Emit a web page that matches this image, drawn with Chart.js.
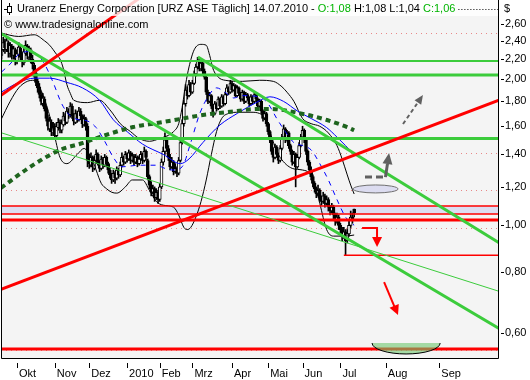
<!DOCTYPE html>
<html><head><meta charset="utf-8">
<script src="https://cdn.jsdelivr.net/npm/chart.js@4/dist/chart.umd.min.js"></script>
<style>html,body{margin:0;padding:0;background:#fff;}canvas{display:block}</style>
</head><body>
<canvas id="c" width="530" height="380"></canvas>
<script>
// ---------- data ----------
const opens = [
2.24,2.30,2.40,2.30,2.38,2.26,2.34,2.24,2.30,2.18,
2.25,2.32,2.24,2.16,2.26,2.34,2.22,2.30,2.20,2.14,
2.06,1.98,1.93,1.86,1.78,1.82,1.74,1.66,1.58,1.63,
1.55,1.60,1.53,1.59,1.63,1.57,1.61,1.68,1.63,1.72,
1.69,1.76,1.68,1.63,1.70,1.65,1.72,1.68,1.61,1.66,
1.60,1.37,1.33,1.38,1.31,1.36,1.40,1.35,1.31,1.37,
1.33,1.38,1.34,1.30,1.27,1.24,1.28,1.25,1.30,1.27,
1.33,1.38,1.35,1.40,1.37,1.41,1.36,1.39,1.35,1.38,
1.34,1.37,1.40,1.36,1.42,1.36,1.26,1.21,1.17,1.19,
1.14,1.17,1.13,1.20,1.35,1.42,1.50,1.44,1.38,1.32,
1.35,1.29,1.31,1.28,1.36,1.48,1.62,1.78,1.90,1.85,
1.95,1.88,1.96,2.05,2.12,2.18,2.10,2.16,2.08,2.02,
1.88,1.80,1.85,1.76,1.70,1.78,1.74,1.82,1.76,1.84,
1.78,1.86,1.92,1.88,1.96,1.90,1.94,1.85,1.92,1.87,
1.82,1.88,1.80,1.86,1.83,1.78,1.84,1.80,1.86,1.82,
1.76,1.80,1.72,1.66,1.70,1.62,1.56,1.50,1.42,1.38,
1.45,1.40,1.36,1.44,1.52,1.58,1.50,1.55,1.46,1.42,
1.35,1.40,1.32,1.38,1.46,1.52,1.57,1.50,1.42,1.35,
1.30,1.26,1.22,1.19,1.16,1.18,1.14,1.12,1.15,1.11,
1.13,1.09,1.07,1.09,1.05,1.02,1.04,1.00,0.98,0.95,
0.97,0.93,0.96,1.00,1.04,1.08];
const highs = [
2.36,2.44,2.42,2.45,2.40,2.38,2.36,2.34,2.32,2.30,
2.38,2.34,2.26,2.32,2.40,2.36,2.34,2.32,2.24,2.16,
2.08,2.00,1.96,1.88,1.87,1.84,1.76,1.69,1.67,1.65,
1.63,1.62,1.63,1.66,1.65,1.65,1.71,1.70,1.75,1.74,
1.79,1.78,1.70,1.73,1.72,1.75,1.74,1.69,1.69,1.67,
1.62,1.40,1.41,1.39,1.39,1.43,1.41,1.36,1.39,1.38,
1.40,1.39,1.35,1.31,1.28,1.30,1.29,1.32,1.31,1.35,
1.41,1.39,1.42,1.41,1.43,1.42,1.41,1.40,1.40,1.39,
1.39,1.42,1.41,1.45,1.43,1.37,1.27,1.23,1.21,1.20,
1.19,1.18,1.22,1.37,1.45,1.55,1.52,1.46,1.40,1.38,
1.36,1.34,1.32,1.38,1.50,1.65,1.81,1.95,1.93,1.99,
1.97,1.99,2.08,2.15,2.22,2.20,2.19,2.17,2.10,2.03,
1.90,1.88,1.86,1.77,1.80,1.79,1.84,1.83,1.86,1.85,
1.88,1.95,1.93,1.99,1.98,1.96,1.95,1.94,1.93,1.88,
1.90,1.89,1.88,1.87,1.84,1.86,1.85,1.88,1.87,1.83,
1.82,1.81,1.73,1.72,1.71,1.63,1.57,1.51,1.44,1.47,
1.46,1.41,1.46,1.54,1.61,1.59,1.57,1.56,1.47,1.43,
1.42,1.41,1.40,1.48,1.54,1.60,1.58,1.51,1.43,1.36,
1.32,1.27,1.23,1.20,1.21,1.19,1.15,1.17,1.16,1.15,
1.14,1.10,1.11,1.10,1.06,1.06,1.05,1.01,0.99,0.99,
0.98,0.98,1.02,1.07,1.06,1.08];
const lows = [
2.20,2.28,2.26,2.28,2.22,2.22,2.20,2.20,2.14,2.15,
2.22,2.18,2.12,2.14,2.24,2.20,2.18,2.16,2.10,2.02,
1.94,1.88,1.83,1.77,1.76,1.72,1.64,1.57,1.56,1.53,
1.53,1.51,1.52,1.57,1.55,1.55,1.60,1.61,1.62,1.66,
1.67,1.66,1.61,1.62,1.63,1.64,1.65,1.59,1.60,1.57,
1.32,1.31,1.32,1.29,1.30,1.34,1.33,1.29,1.30,1.31,
1.32,1.32,1.28,1.25,1.22,1.23,1.22,1.24,1.25,1.26,
1.32,1.33,1.34,1.35,1.36,1.34,1.35,1.33,1.34,1.32,
1.33,1.36,1.34,1.35,1.36,1.24,1.19,1.15,1.16,1.12,
1.13,1.11,1.12,1.19,1.33,1.40,1.42,1.36,1.30,1.31,
1.27,1.28,1.26,1.27,1.35,1.47,1.60,1.76,1.82,1.84,
1.86,1.87,1.95,2.03,2.10,2.08,2.08,2.05,2.00,1.86,
1.78,1.79,1.74,1.67,1.69,1.72,1.73,1.74,1.75,1.76,
1.77,1.85,1.86,1.87,1.88,1.89,1.84,1.84,1.85,1.80,
1.81,1.78,1.79,1.81,1.76,1.77,1.78,1.79,1.80,1.74,
1.75,1.70,1.64,1.65,1.60,1.54,1.48,1.40,1.35,1.37,
1.38,1.34,1.35,1.43,1.51,1.48,1.49,1.44,1.40,1.33,
1.34,1.20,1.31,1.37,1.45,1.51,1.48,1.40,1.33,1.28,
1.24,1.20,1.17,1.14,1.15,1.12,1.10,1.11,1.09,1.10,
1.07,1.05,1.06,1.03,1.00,1.01,0.98,0.96,0.93,0.94,
0.87,0.92,0.95,0.99,1.01,1.04];
const closes = [
2.30,2.38,2.32,2.40,2.28,2.35,2.25,2.31,2.20,2.26,
2.33,2.22,2.18,2.28,2.35,2.24,2.30,2.21,2.15,2.05,
1.97,1.92,1.86,1.80,1.83,1.74,1.66,1.60,1.64,1.56,
1.60,1.54,1.60,1.63,1.58,1.62,1.68,1.64,1.72,1.70,
1.76,1.68,1.64,1.70,1.66,1.72,1.68,1.62,1.66,1.60,
1.36,1.34,1.38,1.32,1.36,1.40,1.35,1.31,1.37,1.33,
1.38,1.34,1.30,1.27,1.24,1.28,1.25,1.30,1.27,1.33,
1.38,1.35,1.40,1.37,1.41,1.36,1.39,1.35,1.38,1.34,
1.37,1.40,1.36,1.42,1.38,1.26,1.21,1.17,1.19,1.14,
1.17,1.13,1.20,1.35,1.42,1.50,1.44,1.38,1.32,1.35,
1.29,1.31,1.28,1.36,1.48,1.62,1.78,1.90,1.85,1.95,
1.88,1.96,2.05,2.12,2.18,2.10,2.16,2.08,2.02,1.88,
1.80,1.85,1.76,1.70,1.78,1.74,1.82,1.76,1.84,1.78,
1.86,1.92,1.88,1.96,1.90,1.94,1.85,1.92,1.87,1.82,
1.88,1.80,1.86,1.83,1.78,1.84,1.80,1.86,1.82,1.76,
1.80,1.72,1.66,1.70,1.62,1.56,1.50,1.42,1.38,1.45,
1.40,1.36,1.44,1.52,1.58,1.50,1.55,1.46,1.42,1.35,
1.40,1.32,1.38,1.46,1.52,1.57,1.50,1.42,1.35,1.30,
1.26,1.22,1.19,1.16,1.18,1.14,1.12,1.15,1.11,1.13,
1.09,1.07,1.09,1.05,1.02,1.04,1.00,0.98,0.95,0.97,
0.93,0.96,1.00,1.04,1.03,1.06];

// indicator curves: [bar index, price]
const ma20 = [[0,2.07],[5,2.15],[10,2.25],[15,2.28],[20,2.26],[25,2.15],[30,1.97],[35,1.78],[40,1.68],[45,1.65],[50,1.64],[55,1.59],[60,1.49],[65,1.38],[70,1.32],[80,1.33],[90,1.33],[95,1.31],[100,1.30],[105,1.32],[110,1.48],[115,1.69],[120,1.84],[125,1.92],[130,1.88],[135,1.83],[140,1.85],[150,1.84],[155,1.78],[160,1.66],[165,1.56],[170,1.48],[175,1.46],[180,1.43],[185,1.34],[190,1.24],[195,1.13],[200,1.04],[205,1.00]];
const ma50 = [[-0.3,1.88],[10,1.97],[19,2.01],[28,2.01],[38,1.97],[47,1.92],[57,1.81],[65,1.65],[73,1.56],[82,1.47],[94,1.40],[104,1.34],[109,1.37],[117,1.48],[127,1.61],[137,1.70],[148,1.79],[156,1.84],[164,1.80],[172,1.72],[180,1.66],[189,1.59],[195,1.52],[205,1.40]];
const ma200 = [[-0.3,1.194],[16.6,1.319],[34,1.43],[47.4,1.478],[57.3,1.521],[76.5,1.594],[90.4,1.625],[103.8,1.656],[117,1.688],[137,1.72],[148.5,1.737],[156,1.737],[175.3,1.696],[189.2,1.648],[200.9,1.594],[205,1.57]];
const bbUpper = [[-0.3,2.49],[10,2.45],[19,2.47],[25,2.40],[28,2.35],[32,2.25],[34,2.20],[36,2.10],[38,1.95],[40,1.87],[42,1.81],[50,1.79],[57,1.81],[63,1.73],[69,1.62],[75,1.56],[80,1.51],[86,1.49],[92,1.51],[100,1.56],[103,1.62],[105,1.75],[107,1.95],[109,2.12],[112,2.30],[116,2.36],[119,2.35],[121,2.24],[123,2.10],[126,2.02],[130,1.99],[140,1.98],[150,1.99],[158,1.98],[163,1.93],[166,1.88],[170,1.80],[175,1.66],[180,1.62],[185,1.60],[190,1.55],[195,1.46],[198,1.37],[201,1.27],[203,1.21],[205,1.16]];
const bbLower = [[-0.3,1.65],[5,1.80],[10,1.92],[15,1.98],[19,1.99],[22,1.93],[25,1.82],[28,1.68],[31,1.52],[34,1.38],[38,1.34],[44,1.40],[48,1.44],[50,1.42],[53,1.36],[55,1.30],[58,1.22],[61,1.19],[64,1.17],[67,1.165],[72,1.20],[76,1.24],[82,1.24],[86,1.18],[90,1.12],[94,1.10],[100,1.09],[103,1.05],[106,0.99],[108,0.98],[110,0.99],[113,1.04],[116,1.12],[119,1.24],[122,1.40],[125,1.56],[128,1.66],[132,1.70],[138,1.71],[145,1.71],[150,1.70],[153,1.66],[156,1.56],[159,1.45],[162,1.38],[169,1.31],[175,1.30],[179,1.28],[182,1.22],[185,1.11],[189,0.98],[193,0.95],[200,0.95],[205,0.955]];

// drawn trend lines and levels: [bar index, price]
const redTrend1 = [[-0.3,1.853],[80.5,2.943]];
const redTrend2 = [[-0.3,0.738],[289.2,1.812]];
const greenTrendA = [[-0.3,2.484],[289.2,0.613]];
const greenTrendB = [[114.2,2.222],[289.2,0.921]];
const greenTrendC = [[-0.3,1.552],[289.2,0.731]];
const greenLevelsThin = [2.18];
const greenLevelsThick = [2.04, 1.51];
const redLevelsThin = [1.096, 1.055];
const redLevelsThick = [1.026, 0.556];
const supportLevel = [[199,0.868],[289.2,0.868]];
const zoneBand = [1.055, 1.096];
const dottedLevels = [2.49, 1.409, 1.182, 0.987, 0.553];

// axis ticks
const monthTickPos = [9,31,51,73,92,111,134,155,175,197,223.4,254.5];
const monthLabels = ['Okt','Nov','Dez','2010','Feb','Mrz','Apr','Mai','Jun','Jul','Aug','Sep'];
const priceTicks = [0.6,0.8,1.0,1.2,1.4,1.6,1.8,2.0,2.2,2.4,2.6];

// annotations: [bar index, price]
const blueEllipse = {i0:204.4, i1:230.5, p0:1.211, p1:1.166};
const grayDash = [[211.3,1.257],[222.9,1.257]];
const grayArrow1 = [[223.2,1.257],[225.3,1.409]];
const grayArrow2 = [[233.4,1.617],[245.0,1.856]];
const redArrow1 = [[209.6,0.987],[218.3,0.987],[218.3,0.902]];
const redArrow2 = [[222.4,0.764],[230.5,0.653]];
const greenBowl = {i0:215.4, i1:255.0, pTop:0.572, pBot:0.543};

const titleParts = [['Uranerz Energy Corporation [URZ ASE Täglich] 14.07.2010 - ','#000'],['O:1,08','#00b400'],[' H:1,08 L:1,04 ','#000'],['C:1,06','#00b400']];
const copyright = '© www.tradesignalonline.com';

// ---------- chart ----------
const FONT = '"Liberation Sans", Arial, sans-serif';
const XMIN = -0.3, XMAX = 289.2;
const pts = a => a.map(([x,y]) => ({x, y}));
function lineDs(data, color, width, order, dash, smooth){
  return {type:'line', data: pts(data), borderColor: color, borderWidth: width, pointRadius: 0,
    fill: false, order, borderDash: dash || [], cubicInterpolationMode: smooth ? 'monotone' : 'default', tension: 0};
}
const datasets = [];
datasets.push({type:'bar', data: closes.map((c,i)=>({x:i, y:[lows[i], highs[i]]})), backgroundColor:'#000',
  barThickness:1, grouped:false, order:30});
datasets.push({type:'bar', data: closes.map((c,i)=>({x:i, y:[opens[i], c]})),
  backgroundColor: closes.map((c,i)=> c >= opens[i] ? '#fff' : '#000'), borderColor:'#000', borderWidth:1,
  borderSkipped:false, barThickness:3, grouped:false, order:29});
datasets.push(lineDs(bbUpper, '#000', 1, 20, null, true));
datasets.push(lineDs(bbLower, '#000', 1, 20, null, true));
datasets.push(lineDs(ma50, '#0000ff', 1, 19, null, true));
datasets.push(lineDs(ma20, '#0000ff', 1, 19, [5,5], true));
datasets.push(lineDs(ma200, '#1e641e', 4, 18, [5,4], true));
greenLevelsThin.forEach(v => datasets.push(lineDs([[XMIN,v],[XMAX,v]], '#3ccc3c', 2, 10)));
greenLevelsThick.forEach(v => datasets.push(lineDs([[XMIN,v],[XMAX,v]], '#3ccc3c', 3, 10)));
redLevelsThin.forEach(v => datasets.push(lineDs([[XMIN,v],[XMAX,v]], '#ff0000', 1.5, 9)));
redLevelsThick.forEach(v => datasets.push(lineDs([[XMIN,v],[XMAX,v]], '#ff0000', 3, 9)));
datasets.push(lineDs(supportLevel, '#ff0000', 1.5, 9));
datasets.push(lineDs(greenTrendA, '#3ccc3c', 3, 8));
datasets.push(lineDs(greenTrendB, '#3ccc3c', 3, 8));
datasets.push(lineDs(greenTrendC, '#3ccc3c', 1, 8));
datasets.push(lineDs(redTrend1, '#ff0000', 3, 7));
datasets.push(lineDs(redTrend2, '#ff0000', 3, 7));

function arrowHead(ctx, x0, y0, x1, y1, len, half){
  const a = Math.atan2(y1-y0, x1-x0);
  ctx.beginPath();
  ctx.moveTo(x1, y1);
  ctx.lineTo(x1 - len*Math.cos(a) + half*Math.sin(a), y1 - len*Math.sin(a) - half*Math.cos(a));
  ctx.lineTo(x1 - len*Math.cos(a) - half*Math.sin(a), y1 - len*Math.sin(a) + half*Math.cos(a));
  ctx.closePath(); ctx.fill();
}

const deco = {
  id:'deco',
  beforeDraw(chart){
    const {ctx, chartArea:a} = chart;
    ctx.save();
    ctx.fillStyle = '#fff'; ctx.fillRect(0,0,chart.width,chart.height);
    ctx.fillStyle = '#f4f4f4'; ctx.fillRect(a.left, a.top, a.right-a.left, a.bottom-a.top);
    ctx.restore();
  },
  beforeDatasetsDraw(chart){
    const {ctx, chartArea:a, scales:{y}} = chart;
    ctx.save();
    const yb0 = y.getPixelForValue(zoneBand[1]), yb1 = y.getPixelForValue(zoneBand[0]);
    ctx.fillStyle = '#dcdef2'; ctx.fillRect(a.left, yb0, a.right-a.left, yb1-yb0);
    ctx.strokeStyle = '#e88888'; ctx.lineWidth = 1; ctx.setLineDash([1,4]);
    dottedLevels.forEach(v => { const yy = Math.round(y.getPixelForValue(v)) + 0.5;
      ctx.beginPath(); ctx.moveTo(a.left, yy); ctx.lineTo(a.right, yy); ctx.stroke(); });
    ctx.restore();
  },
  afterDatasetsDraw(chart){
    const {ctx, chartArea:a, scales:{x, y}} = chart;
    const P = ([i,p]) => [x.getPixelForValue(i), y.getPixelForValue(p)];
    ctx.save();
    ctx.beginPath(); ctx.rect(a.left, a.top, a.right-a.left, a.bottom-a.top); ctx.clip();
    // lavender ellipse
    let x0 = x.getPixelForValue(blueEllipse.i0), x1 = x.getPixelForValue(blueEllipse.i1);
    let y0 = y.getPixelForValue(blueEllipse.p0), y1 = y.getPixelForValue(blueEllipse.p1);
    ctx.beginPath(); ctx.ellipse((x0+x1)/2, (y0+y1)/2, (x1-x0)/2, (y1-y0)/2, 0, 0, Math.PI*2);
    ctx.fillStyle = '#dcdcf0'; ctx.fill(); ctx.strokeStyle = '#707070'; ctx.lineWidth = 1; ctx.stroke();
    // green bowl
    x0 = x.getPixelForValue(greenBowl.i0); x1 = x.getPixelForValue(greenBowl.i1);
    y0 = y.getPixelForValue(greenBowl.pTop); y1 = y.getPixelForValue(greenBowl.pBot);
    ctx.beginPath(); ctx.ellipse((x0+x1)/2, y0, (x1-x0)/2, y1-y0, 0, 0, Math.PI);
    ctx.fillStyle = 'rgba(110,200,110,0.6)'; ctx.fill(); ctx.strokeStyle = '#000'; ctx.stroke();
    // gray dashed + arrow
    ctx.strokeStyle = '#606060'; ctx.fillStyle = '#606060'; ctx.lineWidth = 3; ctx.setLineDash([7,4]);
    let p0 = P(grayDash[0]), p1 = P(grayDash[1]);
    ctx.beginPath(); ctx.moveTo(p0[0], p0[1]); ctx.lineTo(p1[0], p1[1]); ctx.stroke();
    ctx.setLineDash([]);
    p0 = P(grayArrow1[0]); p1 = P(grayArrow1[1]);
    ctx.beginPath(); ctx.moveTo(p0[0], p0[1]); ctx.lineTo(p0[0]+(p1[0]-p0[0])*0.55, p0[1]+(p1[1]-p0[1])*0.55); ctx.stroke();
    arrowHead(ctx, p0[0], p0[1], p1[0], p1[1], 11, 5);
    p0 = P(grayArrow2[0]); p1 = P(grayArrow2[1]);
    ctx.lineWidth = 2; ctx.setLineDash([4,3]);
    ctx.beginPath(); ctx.moveTo(p0[0], p0[1]); ctx.lineTo(p0[0]+(p1[0]-p0[0])*0.7, p0[1]+(p1[1]-p0[1])*0.7); ctx.stroke();
    ctx.setLineDash([]);
    arrowHead(ctx, p0[0], p0[1], p1[0], p1[1], 9, 4);
    // red arrows
    ctx.strokeStyle = '#ff0000'; ctx.fillStyle = '#ff0000'; ctx.lineWidth = 2;
    const r = redArrow1.map(P);
    ctx.beginPath(); ctx.moveTo(r[0][0], r[0][1]); ctx.lineTo(r[1][0], r[1][1]); ctx.lineTo(r[2][0], r[2][1]-6); ctx.stroke();
    arrowHead(ctx, r[1][0], r[1][1], r[2][0], r[2][1], 10, 5);
    p0 = P(redArrow2[0]); p1 = P(redArrow2[1]);
    ctx.beginPath(); ctx.moveTo(p0[0], p0[1]); ctx.lineTo(p0[0]+(p1[0]-p0[0])*0.75, p0[1]+(p1[1]-p0[1])*0.75); ctx.stroke();
    arrowHead(ctx, p0[0], p0[1], p1[0], p1[1], 10, 5);
    ctx.restore();
  },
  afterDraw(chart){
    const {ctx, chartArea:a, scales:{x, y}} = chart;
    ctx.save();
    // title band
    ctx.fillStyle = 'rgba(255,255,255,0.8)'; ctx.fillRect(a.left+1, 0, a.right-a.left-2, 16);
    ctx.font = '11px ' + FONT; ctx.textBaseline = 'middle';
    let tx = 17;
    titleParts.forEach(([t,c]) => { ctx.fillStyle = c; ctx.fillText(t, tx, 9); tx += ctx.measureText(t).width; });
    ctx.strokeStyle = '#000'; ctx.lineWidth = 1; ctx.setLineDash([1,2]);
    ctx.beginPath(); ctx.moveTo(tx+3, 9.5); ctx.lineTo(a.right, 9.5); ctx.stroke(); ctx.setLineDash([]);
    // icon
    ctx.beginPath(); ctx.moveTo(9.5,3); ctx.lineTo(9.5,15); ctx.moveTo(4,9.5); ctx.lineTo(7.5,9.5); ctx.stroke();
    ctx.fillStyle = '#fff'; ctx.fillRect(7.5,6.5,4,6); ctx.strokeRect(7.5,6.5,4,6);
    // copyright
    ctx.fillStyle = '#000'; ctx.fillText(copyright, 4, 25);
    // $ label
    ctx.fillText('$', 504, 9);
    // borders
    ctx.strokeStyle = '#000'; ctx.lineWidth = 1;
    ctx.beginPath();
    ctx.moveTo(a.left+0.5, a.top); ctx.lineTo(a.left+0.5, a.bottom-0.5);
    ctx.lineTo(a.right-0.5, a.bottom-0.5); ctx.lineTo(a.right-0.5, a.top);
    ctx.stroke();
    // tick marks
    ctx.beginPath();
    monthTickPos.forEach(v => { const xx = Math.round(x.getPixelForValue(v)) + 0.5; ctx.moveTo(xx, a.bottom+4); ctx.lineTo(xx, a.bottom+9); });
    priceTicks.forEach(v => { const yy = Math.round(y.getPixelForValue(v)) + 0.5; ctx.moveTo(a.right+2, yy); ctx.lineTo(a.right+5, yy); });
    ctx.stroke();
    ctx.restore();
  }
};

new Chart(document.getElementById('c'), {
  type: 'bar',
  data: { datasets },
  options: {
    responsive: false, animation: false, devicePixelRatio: 1, events: [],
    layout: { padding: { left: 1, right: 0, top: 0, bottom: 0 } },
    plugins: { legend: { display: false }, tooltip: { enabled: false } },
    scales: {
      x: { type: 'linear', min: XMIN, max: XMAX, offset: false, position: 'bottom',
        grid: { display: false, drawTicks: false }, border: { display: false },
        afterBuildTicks: s => { s.ticks = monthTickPos.map(v => ({ value: v })); },
        ticks: { autoSkip: false, maxRotation: 0, minRotation: 0, align: 'start', labelOffset: 2, padding: 8,
          color: '#000', font: { family: FONT, size: 11 }, callback: (v, i) => monthLabels[i] },
        afterFit: s => { s.height = 21; s.paddingLeft = 0; s.paddingRight = 0; } },
      y: { type: 'logarithmic', position: 'right', min: 0.5302, max: 2.913,
        grid: { display: false, drawTicks: false }, border: { display: false },
        afterBuildTicks: s => { s.ticks = priceTicks.map(v => ({ value: v })); },
        ticks: { autoSkip: false, padding: 6, color: '#000', font: { family: FONT, size: 11 },
          callback: v => Number(v).toFixed(2).replace('.', ',') },
        afterFit: s => { s.width = 31; s.paddingTop = 0; s.paddingBottom = 0; } }
    }
  },
  plugins: [deco]
});
</script>
</body></html>
